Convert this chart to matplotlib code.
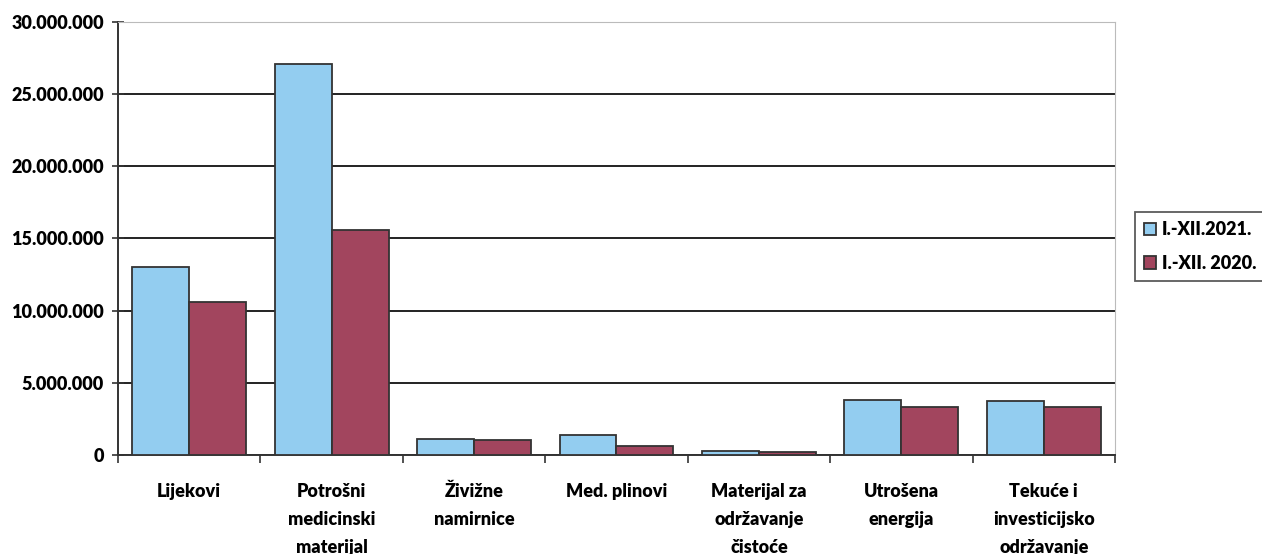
import matplotlib.pyplot as plt
import numpy as np
from matplotlib.ticker import FuncFormatter, FixedLocator

categories = ['Lijekovi', 'Potrošni\nmedicinski\nmaterijal', 'Živižne\nnamirnice', 'Med. plinovi',
              'Materijal za\nodržavanje\nčistoće', 'Utrošena\nenergija', 'Tekuće i\ninvesticijsko\nodržavanje']
values_2021 = [13000000, 27100000, 1100000, 1400000, 300000, 3800000, 3750000]
values_2020 = [10600000, 15600000, 1000000, 600000, 200000, 3300000, 3300000]
series_labels = ['I.-XII.2021.', 'I.-XII. 2020.']

plt.rcParams['font.family'] = ['Lato', 'DejaVu Sans']

fig = plt.figure(figsize=(12.62, 5.54), dpi=100)
ax = fig.add_axes([0.0935, 0.179, 0.79, 0.781])

x = np.arange(len(categories))
width = 0.4
ax.bar(x - width / 2, values_2021, width, color='#93CDF0', edgecolor='#333333',
       linewidth=1.3, label=series_labels[0], zorder=3)
ax.bar(x + width / 2, values_2020, width, color='#A2455E', edgecolor='#333333',
       linewidth=1.3, label=series_labels[1], zorder=3)

ax.set_xlim(-0.5, len(categories) - 0.5)
ax.set_ylim(0, 30000000)
ax.set_yticks(np.arange(0, 30000001, 5000000))
ax.yaxis.set_major_formatter(FuncFormatter(lambda v, p: f'{int(v):,}'.replace(',', '.')))
ax.yaxis.grid(True, color='#222222', linewidth=1.4, zorder=0)

ax.set_xticks(x)
ax.set_xticklabels(categories, fontweight='heavy', fontsize=13, linespacing=1.8)
ax.tick_params(axis='x', length=0, pad=20)
ax.xaxis.set_minor_locator(FixedLocator(np.arange(-0.5, len(categories), 1)))
ax.tick_params(axis='x', which='minor', length=6, width=1.2, color='#333333', direction='out')
ax.tick_params(axis='y', length=8, width=1.2, direction='inout', labelsize=13, color='#333333', pad=6)
for lab in ax.get_yticklabels():
    lab.set_fontweight('heavy')

ax.spines['left'].set_color('#333333')
ax.spines['left'].set_linewidth(1.4)
ax.spines['bottom'].set_color('#333333')
ax.spines['bottom'].set_linewidth(1.4)
ax.spines['top'].set_color('#bbbbbb')
ax.spines['right'].set_color('#bbbbbb')

leg = fig.legend(loc='center left', bbox_to_anchor=(0.899, 0.555), frameon=True,
                 fancybox=False, edgecolor='#333333', fontsize=13,
                 handlelength=0.7, handleheight=0.7, handletextpad=0.3,
                 labelspacing=0.9, borderpad=0.5, borderaxespad=0)
leg.get_frame().set_linewidth(1.3)
for t in leg.get_texts():
    t.set_fontweight('heavy')

fig.savefig('out.png', dpi=100)
